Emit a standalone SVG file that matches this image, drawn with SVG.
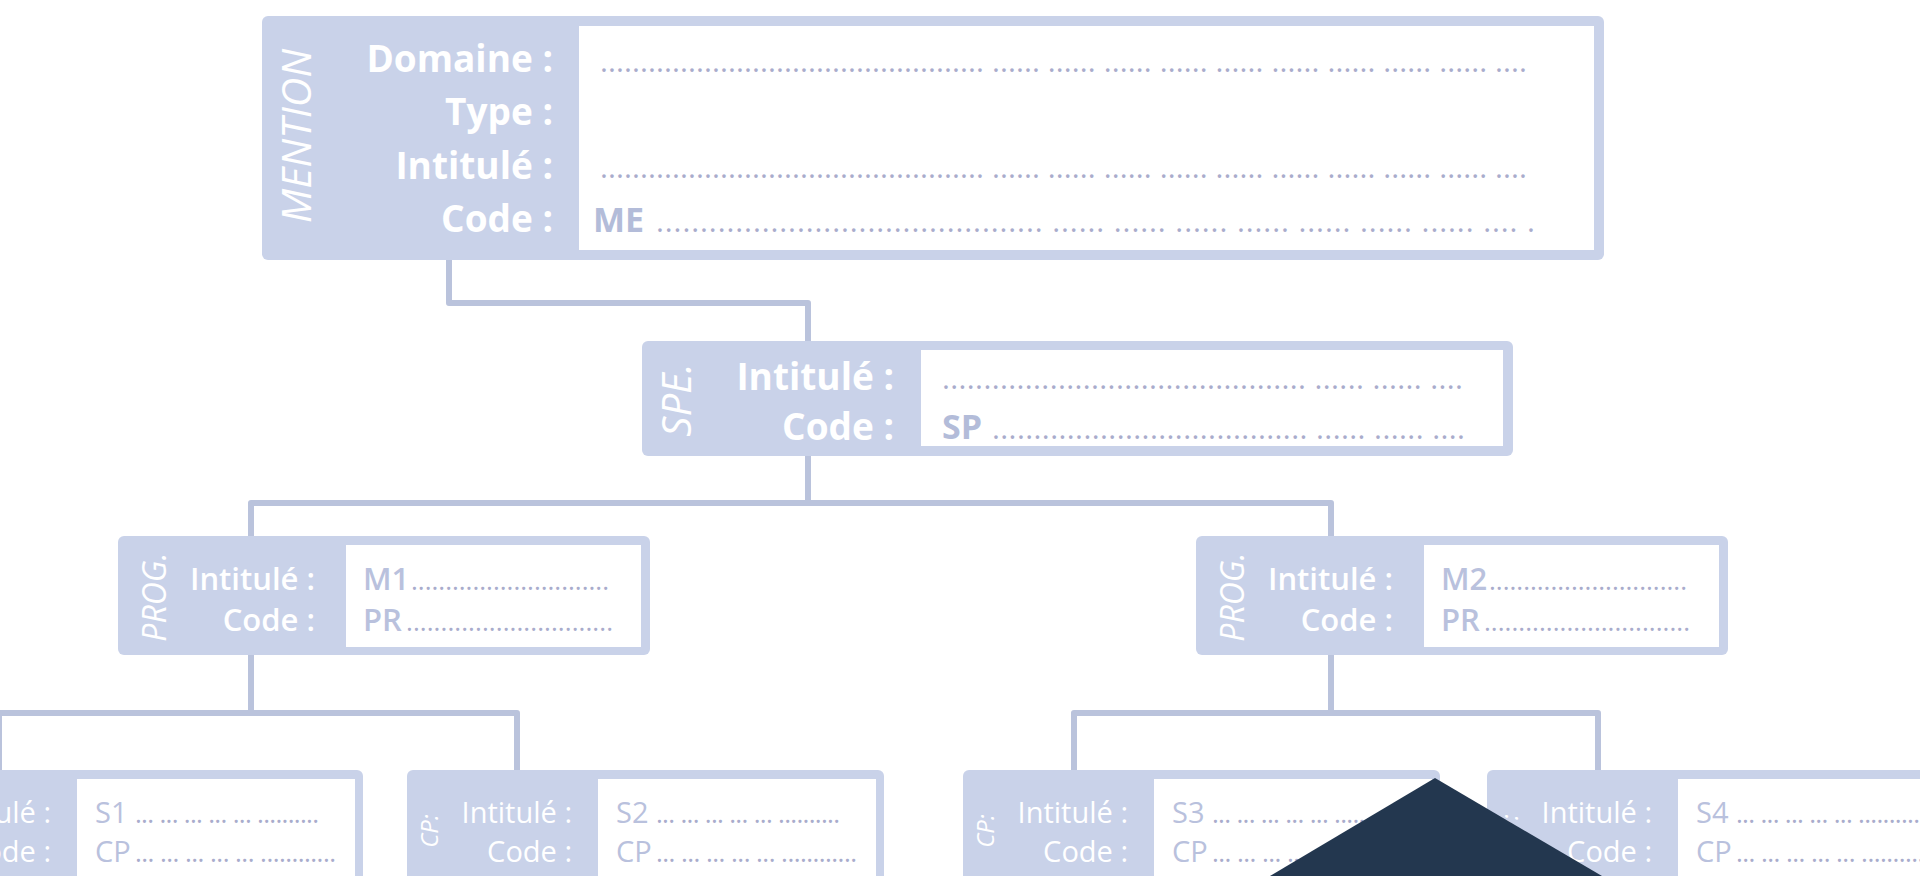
<svg xmlns="http://www.w3.org/2000/svg" width="1920" height="876" viewBox="0 0 1920 876">
<style>
.panel{fill:#C9D2E9}
.inner{fill:#FFFFFF}
.conn{fill:none;stroke:#BAC3DC;stroke-width:6;stroke-linejoin:round}
.lb1{font-family:'Open Sans','Liberation Sans',sans-serif;font-weight:700;font-size:37px;fill:#FFFFFF;text-anchor:end}
.lb2{font-family:'Open Sans','Liberation Sans',sans-serif;font-weight:600;font-size:31px;fill:#FFFFFF;text-anchor:end}
.lb3{font-family:'Open Sans','Liberation Sans',sans-serif;font-weight:400;font-size:29px;fill:#FFFFFF;text-anchor:end}
.rot{font-family:'Open Sans','Liberation Sans',sans-serif;font-style:italic;font-weight:400;fill:#FFFFFF;text-anchor:middle}
.v1{font-family:'Open Sans','Liberation Sans',sans-serif;font-weight:700;font-size:34px;fill:#B3BCD9}
.v2{font-family:'Open Sans','Liberation Sans',sans-serif;font-weight:600;font-size:31px;fill:#B9C1DD}
.v3{font-family:'Open Sans','Liberation Sans',sans-serif;font-weight:400;font-size:29px;fill:#B9C1DD}
.d1{font-family:'Open Sans','Liberation Sans',sans-serif;font-weight:400;font-size:30px;fill:#A9ACCC}
.d2{font-family:'Open Sans','Liberation Sans',sans-serif;font-weight:400;font-size:26px;fill:#A9ACCC}
</style>

<g id="connectors">
<path class="conn" d="M449 260 V303 H808 V341"/>
<path class="conn" d="M808 456 V503"/>
<path class="conn" d="M251 536 V503 H1331 V536"/>
<path class="conn" d="M251 655 V713"/>
<path class="conn" d="M-1 770 V713 H517 V770"/>
<path class="conn" d="M1331 655 V713"/>
<path class="conn" d="M1074 770 V713 H1598 V770"/>
</g>

<g id="mention">
<rect class="panel" x="262" y="16" width="1342" height="244" rx="6"/>
<rect class="inner" x="579" y="26" width="1015" height="224"/>
<text class="rot" font-size="41" transform="translate(311,136) rotate(-90)">MENTION</text>
<text class="lb1" x="553" y="72">Domaine :</text>
<text class="lb1" x="553" y="125">Type :</text>
<text class="lb1" x="553" y="179">Intitulé :</text>
<text class="lb1" x="553" y="232">Code :</text>
<text class="d1" x="600" y="72" textLength="927" lengthAdjust="spacing">................................................ ...... ...... ...... ...... ...... ...... ...... ...... ...... ....</text>
<text class="d1" x="600" y="178" textLength="927" lengthAdjust="spacing">................................................ ...... ...... ...... ...... ...... ...... ...... ...... ...... ....</text>
<text x="593" y="232"><tspan class="v1">ME</tspan><tspan class="d1" x="656" textLength="879" lengthAdjust="spacing">............................................ ...... ...... ...... ...... ...... ...... ...... .... .</tspan></text>
</g>

<g id="spe">
<rect class="panel" x="642" y="341" width="871" height="115" rx="6"/>
<rect class="inner" x="921" y="350" width="582" height="96"/>
<text class="rot" font-size="40" transform="translate(691,400) rotate(-90)">SPE.</text>
<text class="lb1" x="894" y="390">Intitulé :</text>
<text class="lb1" x="894" y="440">Code :</text>
<text class="d1" x="942" y="389" textLength="521" lengthAdjust="spacing">............................................ ...... ...... ....</text>
<text x="942" y="439"><tspan class="v1">SP</tspan><tspan class="d1" x="992" textLength="473" lengthAdjust="spacing">...................................... ...... ...... ....</tspan></text>
</g>

<g id="prog1">
<rect class="panel" x="118" y="536" width="532" height="119" rx="6"/>
<rect class="inner" x="346" y="545" width="295" height="102"/>
<text class="rot" font-size="32" transform="translate(166,597) rotate(-90)">PROG.</text>
<text class="lb2" x="315" y="590">Intitulé :</text>
<text class="lb2" x="315" y="631">Code :</text>
<text x="363" y="590"><tspan class="v2">M1</tspan><tspan class="d2" x="411" textLength="198" lengthAdjust="spacing">.............................</tspan></text>
<text x="363" y="631"><tspan class="v2">PR</tspan><tspan class="d2" x="406" textLength="207" lengthAdjust="spacing">..............................</tspan></text>
</g>

<g id="prog2">
<rect class="panel" x="1196" y="536" width="532" height="119" rx="6"/>
<rect class="inner" x="1424" y="545" width="295" height="102"/>
<text class="rot" font-size="32" transform="translate(1244,597) rotate(-90)">PROG.</text>
<text class="lb2" x="1393" y="590">Intitulé :</text>
<text class="lb2" x="1393" y="631">Code :</text>
<text x="1441" y="590"><tspan class="v2">M2</tspan><tspan class="d2" x="1489" textLength="198" lengthAdjust="spacing">.............................</tspan></text>
<text x="1441" y="631"><tspan class="v2">PR</tspan><tspan class="d2" x="1484" textLength="206" lengthAdjust="spacing">..............................</tspan></text>
</g>

<g id="cp1">
<rect class="panel" x="-114" y="770" width="477" height="130" rx="6"/>
<rect class="inner" x="77" y="779" width="278" height="110"/>
<text class="rot" font-size="24" transform="translate(-83,831) rotate(-90)">CP:</text>
<text class="lb3" x="51" y="823">Intitulé :</text>
<text class="lb3" x="51" y="862">Code :</text>
<text x="95" y="823"><tspan class="v3">S1</tspan><tspan class="d2" x="135" textLength="184" lengthAdjust="spacing">... ... ... ... ... ..........</tspan></text>
<text x="95" y="862"><tspan class="v3">CP</tspan><tspan class="d2" x="135" textLength="201" lengthAdjust="spacing">... ... ... ... ... ............</tspan></text>
</g>

<g id="cp2">
<rect class="panel" x="407" y="770" width="477" height="130" rx="6"/>
<rect class="inner" x="598" y="779" width="278" height="110"/>
<text class="rot" font-size="24" transform="translate(438,831) rotate(-90)">CP:</text>
<text class="lb3" x="572" y="823">Intitulé :</text>
<text class="lb3" x="572" y="862">Code :</text>
<text x="616" y="823"><tspan class="v3">S2</tspan><tspan class="d2" x="656" textLength="184" lengthAdjust="spacing">... ... ... ... ... ..........</tspan></text>
<text x="616" y="862"><tspan class="v3">CP</tspan><tspan class="d2" x="656" textLength="201" lengthAdjust="spacing">... ... ... ... ... ............</tspan></text>
</g>

<g id="cp3">
<rect class="panel" x="963" y="770" width="477" height="130" rx="6"/>
<rect class="inner" x="1154" y="779" width="278" height="110"/>
<text class="rot" font-size="24" transform="translate(994,831) rotate(-90)">CP:</text>
<text class="lb3" x="1128" y="823">Intitulé :</text>
<text class="lb3" x="1128" y="862">Code :</text>
<text x="1172" y="823"><tspan class="v3">S3</tspan><tspan class="d2" x="1212" textLength="184" lengthAdjust="spacing">... ... ... ... ... ..........</tspan></text>
<text x="1172" y="862"><tspan class="v3">CP</tspan><tspan class="d2" x="1212" textLength="201" lengthAdjust="spacing">... ... ... ... ... ............</tspan></text>
</g>

<g id="cp4">
<rect class="panel" x="1487" y="770" width="477" height="130" rx="6"/>
<rect class="inner" x="1678" y="779" width="278" height="110"/>
<text class="rot" font-size="24" transform="translate(1518,831) rotate(-90)">CP:</text>
<text class="lb3" x="1652" y="823">Intitulé :</text>
<text class="lb3" x="1652" y="862">Code :</text>
<text x="1696" y="823"><tspan class="v3">S4</tspan><tspan class="d2" x="1736" textLength="184" lengthAdjust="spacing">... ... ... ... ... ..........</tspan></text>
<text x="1696" y="862"><tspan class="v3">CP</tspan><tspan class="d2" x="1736" textLength="201" lengthAdjust="spacing">... ... ... ... ... ............</tspan></text>
</g>

<polygon id="pointer" points="1435,778 1270,876 1602,876" fill="#23374F"/>
</svg>
